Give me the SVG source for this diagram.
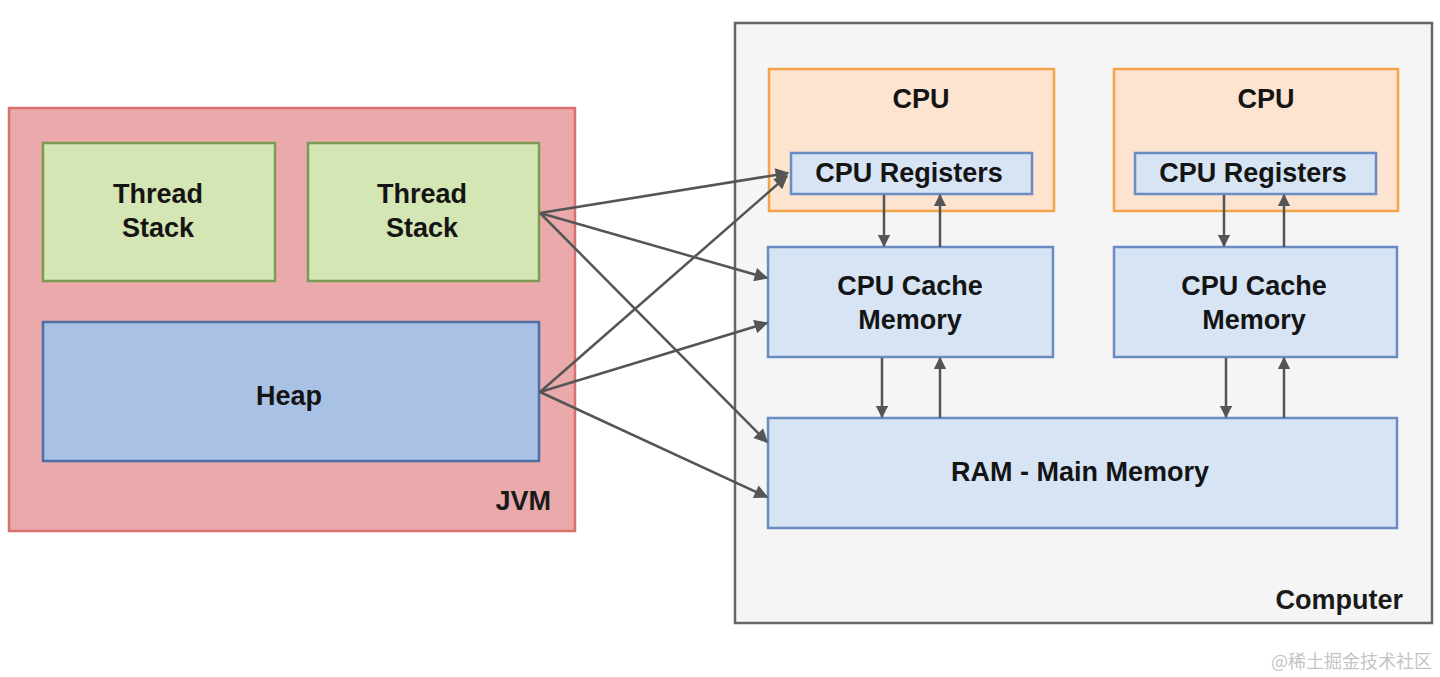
<svg xmlns="http://www.w3.org/2000/svg" width="1440" height="677" viewBox="0 0 1440 677">
<defs>
<marker id="ah" viewBox="0 0 10 10" refX="9" refY="5" markerWidth="6" markerHeight="5.5" markerUnits="strokeWidth" orient="auto">
<path d="M0,0 L10,5 L0,10 z" fill="#555"/>
</marker>
<marker id="av" viewBox="0 0 10 10" refX="9" refY="5" markerWidth="5" markerHeight="5" markerUnits="strokeWidth" orient="auto">
<path d="M0,0 L10,5 L0,10 z" fill="#555"/>
</marker>
<style>
.t{font-family:"Liberation Sans",Arial,sans-serif;font-weight:bold;font-size:27px;fill:#141414;text-anchor:middle}
.lbl{font-family:"Liberation Sans",Arial,sans-serif;font-weight:bold;font-size:27px;fill:#1a1a1a;text-anchor:end}
.green{fill:#d4e6b3;stroke:#7c9a52;stroke-width:2.5}
.blue{fill:#a9c1e5;stroke:#4f6ea3;stroke-width:2.5}
.lblue{fill:#d6e4f4;stroke:#6a8cc2;stroke-width:2.5}
.cpu{fill:#fde4d0;stroke:#f4a347;stroke-width:2.5}
.c{stroke:#555;stroke-width:2.5;fill:none;marker-end:url(#ah)}
.v{stroke:#555;stroke-width:2.5;fill:none;marker-end:url(#av)}
</style>
</defs>
<rect width="1440" height="677" fill="#ffffff"/>
<g id="jvm">
<rect x="9" y="108" width="566" height="423" fill="#eaa9aa" stroke="#d9716f" stroke-width="2.5"/>
<text class="lbl" x="551" y="510">JVM</text>
</g>
<g id="thread-stack-1">
<rect class="green" x="43" y="143" width="232" height="138"/>
<text class="t" x="158" y="203">Thread</text>
<text class="t" x="158" y="237">Stack</text>
</g>
<g id="thread-stack-2">
<rect class="green" x="308" y="143" width="231" height="138"/>
<text class="t" x="422" y="203">Thread</text>
<text class="t" x="422" y="237">Stack</text>
</g>
<g id="heap">
<rect class="blue" x="43" y="322" width="496" height="139"/>
<text class="t" x="289" y="405">Heap</text>
</g>
<g id="computer">
<rect x="735" y="23" width="697" height="600" fill="#f5f5f5" stroke="#666" stroke-width="2.5"/>
<text class="lbl" x="1403" y="609">Computer</text>
</g>
<g id="cpu-1">
<rect class="cpu" x="769" y="69" width="285" height="142"/>
<text class="t" x="921" y="108">CPU</text>
</g>
<g id="cpu-registers-1">
<rect class="lblue" x="791" y="153" width="241" height="41"/>
<text class="t" x="909" y="182">CPU Registers</text>
</g>
<g id="cpu-2">
<rect class="cpu" x="1114" y="69" width="284" height="142"/>
<text class="t" x="1266" y="108">CPU</text>
</g>
<g id="cpu-registers-2">
<rect class="lblue" x="1135" y="153" width="241" height="41"/>
<text class="t" x="1253" y="182">CPU Registers</text>
</g>
<g id="cpu-cache-1">
<rect class="lblue" x="768" y="247" width="285" height="110"/>
<text class="t" x="910" y="295">CPU Cache</text>
<text class="t" x="910" y="329">Memory</text>
</g>
<g id="cpu-cache-2">
<rect class="lblue" x="1114" y="247" width="283" height="110"/>
<text class="t" x="1254" y="295">CPU Cache</text>
<text class="t" x="1254" y="329">Memory</text>
</g>
<g id="ram">
<rect class="lblue" x="768" y="418" width="629" height="110"/>
<text class="t" x="1080" y="481">RAM - Main Memory</text>
</g>
<g id="connectors">
<line class="c" x1="540" y1="213" x2="788" y2="173"/>
<line class="c" x1="540" y1="213" x2="767" y2="278"/>
<line class="c" x1="540" y1="213" x2="767" y2="442"/>
<line class="c" x1="540" y1="392" x2="787" y2="176"/>
<line class="c" x1="540" y1="392" x2="767" y2="323"/>
<line class="c" x1="540" y1="392" x2="767" y2="497"/>
<line class="v" x1="884" y1="195" x2="884" y2="246"/>
<line class="v" x1="940" y1="247" x2="940" y2="195"/>
<line class="v" x1="882" y1="358" x2="882" y2="417"/>
<line class="v" x1="940" y1="418" x2="940" y2="358"/>
<line class="v" x1="1224" y1="195" x2="1224" y2="246"/>
<line class="v" x1="1284" y1="247" x2="1284" y2="195"/>
<line class="v" x1="1226" y1="358" x2="1226" y2="417"/>
<line class="v" x1="1284" y1="418" x2="1284" y2="358"/>
</g>
<text x="1432" y="668" font-family="'Noto Sans CJK SC',sans-serif" font-size="18" fill="#c4c4c4" text-anchor="end">@稀土掘金技术社区</text>
</svg>
